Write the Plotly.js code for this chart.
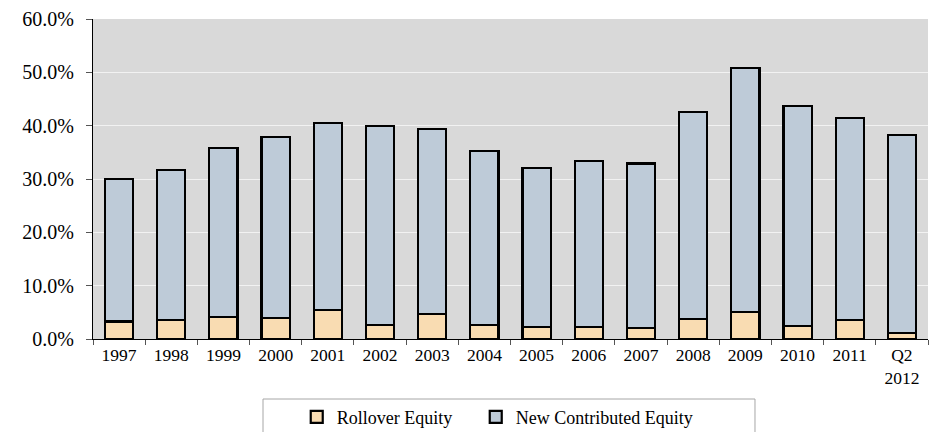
<!DOCTYPE html>
<html>
<head>
<meta charset="utf-8">
<script src="https://cdn.plot.ly/plotly-3.0.1.min.js"></script>
<style>html,body{margin:0;padding:0;background:#fff;}#chart{width:932px;height:432px;}</style>
</head>
<body>
<div id="chart"></div>
<script>
var categories = ["1997","1998","1999","2000","2001","2002","2003","2004","2005","2006","2007","2008","2009","2010","2011","Q2<br>2012"];
var rolloverEquity = [3.3, 3.6, 4.1, 3.9, 5.5, 2.7, 4.7, 2.7, 2.3, 2.3, 2.0, 3.8, 5.0, 2.4, 3.5, 1.2];
var newContributedEquity = [26.7, 28.1, 31.65, 34.0, 35.0, 37.3, 34.7, 32.5, 29.8, 31.1, 30.9, 38.8, 45.8, 41.3, 38.0, 37.1];
var seriesNames = ["Rollover Equity", "New Contributed Equity"];
var yTicks = [0, 10, 20, 30, 40, 50, 60];

var font = "Liberation Serif";
var traces = [
  {type:'bar', name:seriesNames[0], x:categories, y:rolloverEquity, legendwidth:134,
   marker:{color:'#f9dcb2', line:{color:'#000', width:2.2}}},
  {type:'bar', name:seriesNames[1], x:categories, y:newContributedEquity, legendwidth:190,
   marker:{color:'#becbd8', line:{color:'#000', width:2.2}}}
];
var layout = {
  width:932, height:432,
  margin:{l:93, r:4, t:19, b:93, autoexpand:false},
  barmode:'stack', bargap:0.46,
  paper_bgcolor:'#fff', plot_bgcolor:'#d9d9d9',
  font:{family:font, color:'#000', size:18},
  showlegend:true,
  legend:{orientation:'h', x:0.244, xanchor:'left', yref:'container', y:0.077, yanchor:'top',
          font:{family:font, size:18, color:'#000'}, traceorder:'normal',
          bgcolor:'rgba(0,0,0,0)'},
  xaxis:{type:'category', categoryorder:'array', categoryarray:categories, automargin:false,
         showline:true, linecolor:'#000', linewidth:1,
         ticks:'outside', tickson:'boundaries', ticklen:5, tickcolor:'#555',
         tickfont:{family:font, size:17.5, color:'#000'}, showgrid:false, fixedrange:true},
  yaxis:{range:[0,60], tickvals:yTicks, ticktext:yTicks.map(function(v){return v.toFixed(1)+'%';}),
         automargin:false,
         showline:true, linecolor:'#000', linewidth:1,
         ticks:'outside', ticklen:6, tickcolor:'#555', ticklabelstandoff:8,
         gridcolor:'#f2f2f2', gridwidth:1, zeroline:false,
         tickfont:{family:font, size:20, color:'#000'}, fixedrange:true},
  shapes:[{type:'rect', xref:'paper', yref:'paper', x0:0.2036, x1:0.7928, y0:-0.1875, y1:-0.35,
           line:{color:'#a6a6a6', width:1}, fillcolor:'rgba(0,0,0,0)', layer:'below'}]
};
Plotly.newPlot('chart', traces, layout, {displayModeBar:false, staticPlot:true});
</script>
</body>
</html>
